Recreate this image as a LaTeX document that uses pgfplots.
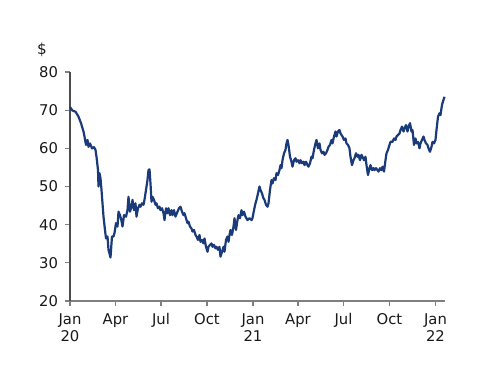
\documentclass[border=0pt]{standalone}
\usepackage{pgfplots}
\pgfplotsset{compat=1.18}
\usepackage{fontspec}
\setmainfont{DejaVu Sans}
\definecolor{navy}{HTML}{1B3A7A}
\definecolor{axgray}{HTML}{7F7F7F}
\begin{document}
\begin{tikzpicture}
\useasboundingbox (-35pt,-42.5pt) rectangle (215pt,150.5pt);
\begin{axis}[
  scale only axis,
  width=187.5pt, height=114.5pt,
  xmin=0, xmax=750, ymin=20, ymax=80,
  axis x line*=bottom, axis y line*=left,
  x axis line style={axgray, line width=0.8pt, -},
  y axis line style={black!70, line width=0.6pt, -},
  xtick={0,91,182,274,366,456,547,639,731},
  xticklabels={Jan\\20,Apr,Jul,Oct,Jan\\21,Apr,Jul,Oct,Jan\\22},
  xticklabel style={align=center, font=\fontsize{7.4}{8.6}\selectfont, text=black!90, yshift=-0.3pt},
  ytick={20,30,40,50,60,70,80},
  yticklabel style={font=\fontsize{7.4}{8.6}\selectfont, text=black!90},
  /pgf/number format/assume math mode=true,
  tick style={axgray, line width=0.6pt},
  tick align=outside,
  major tick length=2.5pt,
  clip=false,
]
\addplot[navy, line width=1.1pt, line join=round] table {
0 70.8
5 69.9
11 69.6
17 68.3
22 66.6
27 64.4
29 63.1
32 60.9
35 62.2
37 60.4
40 61.3
44 60.0
48 60.3
51 59.6
53 57.8
56 54.3
57 50.0
59 53.5
61 52.2
63 49.1
65 45.6
67 42.1
70 38.6
72 36.4
75 36.9
77 33.4
81 31.4
83 35.1
84 36.9
87 36.9
89 37.8
92 40.4
95 39.5
97 43.4
100 42.5
103 41.0
105 39.5
108 42.5
112 42.1
115 43.8
117 47.3
120 43.4
123 44.7
125 46.5
128 43.8
131 45.6
133 42.1
136 44.3
139 45.2
141 44.7
144 45.6
147 45.2
149 46.5
152 49.1
155 51.7
157 54.3
159 54.5
161 50.8
163 46.0
165 47.3
168 46.5
171 45.2
173 45.6
176 44.3
179 44.7
181 43.8
184 44.3
187 43.0
189 41.2
192 44.3
195 43.0
197 44.3
200 42.5
203 43.8
205 42.5
208 43.8
211 42.1
215 43.4
218 44.3
221 44.7
224 43.4
227 42.5
229 43.0
232 41.7
235 40.4
237 40.8
240 39.5
243 39.0
245 38.2
248 38.6
251 37.3
253 36.9
256 36.0
259 37.3
261 35.5
264 36.0
267 35.1
269 36.4
272 34.2
275 32.9
277 34.2
280 34.7
283 35.1
285 34.2
288 34.7
291 33.8
293 34.2
296 33.4
299 34.2
301 31.6
304 32.9
307 34.2
309 32.9
312 36.0
315 36.9
317 35.5
319 37.3
321 38.6
324 37.3
327 39.5
329 41.7
332 38.6
335 41.2
337 42.5
340 41.7
343 43.8
345 42.5
348 43.4
351 42.1
355 41.2
359 41.7
363 41.2
365 41.7
368 43.8
371 45.6
373 46.5
376 48.2
379 50.0
381 49.1
384 48.2
387 46.9
389 46.5
392 45.2
395 44.7
397 45.6
400 49.1
403 51.7
405 50.8
408 52.2
411 51.7
413 53.5
416 53.0
419 54.3
421 55.6
423 54.8
425 56.9
428 58.7
431 59.6
433 61.3
435 62.2
437 60.9
440 57.8
443 56.5
445 55.2
448 56.9
451 57.4
453 56.5
456 56.9
459 56.1
461 56.9
464 56.1
467 56.5
469 55.6
472 56.5
475 55.6
477 55.2
480 56.1
483 57.8
485 57.4
488 59.6
491 61.3
493 62.2
496 60.0
499 61.3
501 59.6
504 58.7
507 59.1
509 58.3
512 58.7
515 59.6
517 60.4
520 60.9
523 62.2
525 61.3
528 63.1
531 64.4
533 63.1
536 64.4
539 64.8
541 63.9
543 63.5
545 63.1
548 62.2
551 62.6
553 61.3
556 60.9
559 60.0
561 57.8
564 55.6
567 56.9
569 57.4
572 58.7
575 57.8
577 58.3
580 56.9
583 58.3
585 57.8
588 56.9
591 57.8
593 55.6
596 53.0
599 54.8
601 55.6
604 54.3
607 54.8
609 54.3
612 54.8
615 54.3
617 53.9
620 54.8
623 54.3
625 55.2
628 53.9
631 56.9
633 58.7
636 59.6
639 60.9
641 61.7
645 61.7
648 62.6
651 62.2
653 63.1
656 63.5
659 63.9
661 64.8
664 65.7
667 64.4
669 65.2
672 66.1
675 64.4
677 65.7
680 66.6
683 64.4
685 64.8
688 60.9
691 62.6
693 61.3
696 61.7
699 60.0
701 61.3
704 62.2
707 63.1
709 62.2
712 61.3
715 60.9
717 60.0
720 59.1
723 60.4
725 61.7
728 61.3
731 62.2
733 64.8
736 68.3
739 69.2
741 68.7
744 71.4
747 72.7
749 73.5
};
\end{axis}
\node[font=\fontsize{7.6}{8.6}\selectfont, text=black!90] at (-14pt,125.5pt) {\$};
\end{tikzpicture}
\end{document}
